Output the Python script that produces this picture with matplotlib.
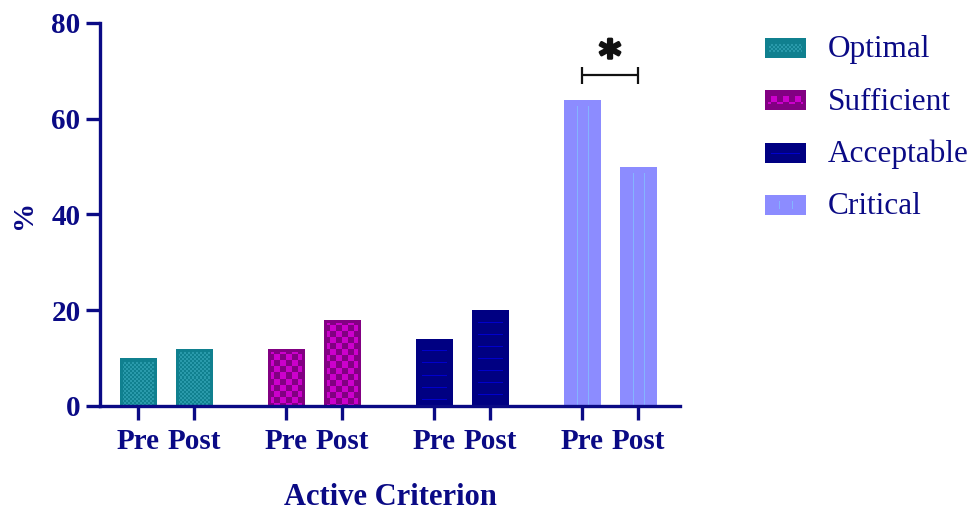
import numpy as np
import matplotlib
matplotlib.use("Agg")
import matplotlib.pyplot as plt
import matplotlib.patheffects as pe
from matplotlib.patches import Rectangle

# ---- data -------------------------------------------------------------
categories = ["Optimal", "Sufficient", "Acceptable", "Critical"]
pre_values = [10, 12, 14, 64]
post_values = [12, 18, 20, 50]
phase_labels = ["Pre", "Post"]
y_ticks = [0, 20, 40, 60, 80]
significant = [False, False, False, True]

# ---- style ------------------------------------------------------------
NAVY = "#0A0A85"
plt.rcParams["font.family"] = ["Liberation Serif", "DejaVu Serif"]

styles = {
    "Optimal":    dict(base="#10808F", fill="#2A9AAB", kind="fine_check"),
    "Sufficient": dict(base="#820082", fill="#CC00CC", kind="check"),
    "Acceptable": dict(base="#000082", fill="#0000CC", kind="hlines"),
    "Critical":   dict(base="#8C8CFF", fill="#84B4FF", kind="vlines"),
}


def hex_rgb(h):
    h = h.lstrip("#")
    return np.array([int(h[i:i + 2], 16) / 255 for i in (0, 2, 4)])


def texture(kind, base, fill, w, h, legend=False):
    """RGB texture (row 0 = top) for a patterned bar of w x h pixels."""
    w, h = max(int(round(w)), 2), max(int(round(h)), 2)
    img = np.tile(hex_rgb(base), (h, w, 1))
    c = hex_rgb(fill)
    yy, xx = np.mgrid[0:h, 0:w]
    if kind == "fine_check":
        side, top = (3, 4) if not legend else (4, 6)
        mask = ((xx // 2 + yy // 2) % 2 == 0)
        inner = (xx >= side) & (xx < w - side) & (yy >= top)
        if legend:
            inner &= (yy < h - 6)
        img[mask & inner] = c
    elif kind == "check":
        side, top = 3, 4
        mask = ((xx // 6 + yy // 6) % 2 == 0)
        inner = (xx >= side) & (xx < w - side) & (yy >= top)
        if legend:
            inner &= (yy >= 6) & (yy < h - 6)
        img[mask & inner] = c
    elif kind == "hlines":
        side = 6
        if legend:
            rows = [h // 2]
        else:
            rows = list(range(12, h, 12))
        for r in rows:
            img[r, side:w - side] = c
    elif kind == "vlines":
        top = 7 if not legend else 6
        for col in (int(round(w * 0.34)), int(round(w * 0.66))):
            if legend:
                img[top:h - top, col] = c
            else:
                img[top:, col] = c
    return img


# ---- figure -----------------------------------------------------------
W, H, DPI = 974, 513, 100
fig = plt.figure(figsize=(W / DPI, H / DPI), dpi=DPI)
ax = fig.add_axes([100 / W, 107 / H, 580 / W, 383 / H])

within = 1.0          # Pre -> Post spacing
group_gap = 2.643     # group -> group spacing
bar_w = 0.66

pre_x = np.arange(len(categories)) * group_gap
post_x = pre_x + within

x_left = pre_x[0] - 0.68
x_right = post_x[-1] + 0.75
ax.set_xlim(x_left, x_right)
ax.set_ylim(0, 80)

to_px = ax.transData.transform


def patterned_bar(x, value, cat):
    st = styles[cat]
    rect = Rectangle((x - bar_w / 2, 0), bar_w, value,
                     facecolor=st["base"], edgecolor="none", zorder=2)
    ax.add_patch(rect)
    (px0, py0), (px1, py1) = to_px([(x - bar_w / 2, 0), (x + bar_w / 2, value)])
    img = texture(st["kind"], st["base"], st["fill"], px1 - px0, py1 - py0)
    im = ax.imshow(img, extent=(x - bar_w / 2, x + bar_w / 2, 0, value),
                   origin="upper", interpolation="nearest", aspect="auto",
                   zorder=3)
    im.set_clip_path(rect)


for i, cat in enumerate(categories):
    patterned_bar(pre_x[i], pre_values[i], cat)
    patterned_bar(post_x[i], post_values[i], cat)

ax.set_xlim(x_left, x_right)
ax.set_ylim(0, 80)

# significance bracket
for i, sig in enumerate(significant):
    if not sig:
        continue
    top = max(pre_values[i], post_values[i])
    yb = top + 5.1
    ax.plot([pre_x[i], post_x[i]], [yb, yb], color="#111111", lw=1.6,
            solid_capstyle="butt", zorder=4)
    for xx in (pre_x[i], post_x[i]):
        ax.plot([xx, xx], [yb - 1.8, yb + 1.8], color="#111111", lw=1.6,
                solid_capstyle="butt", zorder=4)
    ax.text((pre_x[i] + post_x[i]) / 2, yb + 3.6, "*", ha="center",
            va="center", fontsize=30, fontweight="bold", color="#111111",
            family="DejaVu Sans",
            path_effects=[pe.withStroke(linewidth=2.0, foreground="#111111")])

# axes styling
for s in ("top", "right"):
    ax.spines[s].set_visible(False)
for s in ("left", "bottom"):
    ax.spines[s].set_color(NAVY)
    ax.spines[s].set_linewidth(2.4)
    ax.spines[s].set_zorder(5)

ax.set_yticks(y_ticks)
ax.set_yticklabels([str(t) for t in y_ticks])
tick_x = np.ravel(np.column_stack([pre_x, post_x]))
ax.set_xticks(tick_x)
ax.set_xticklabels(phase_labels * len(categories))
ax.tick_params(axis="both", colors=NAVY, width=2.4, length=10,
               labelsize=21, direction="out")
ax.tick_params(axis="y", pad=4)
ax.tick_params(axis="x", pad=6)
for lab in ax.get_xticklabels() + ax.get_yticklabels():
    lab.set_fontweight("bold")
    lab.set_color(NAVY)

ax.set_ylabel("%", fontsize=21, fontweight="bold", color=NAVY, labelpad=10)
ax.set_xlabel("Active Criterion", fontsize=22, fontweight="bold",
              color=NAVY, labelpad=20)

# legend drawn in pixel space
lax = fig.add_axes([0, 0, 1, 1], zorder=-1)
lax.set_xlim(0, W)
lax.set_ylim(H, 0)
lax.axis("off")
for k, cat in enumerate(categories):
    st = styles[cat]
    yc = 48 + k * 52.3
    bx, bw, bh = 765, 41, 20
    img = texture(st["kind"], st["base"], st["fill"], bw, bh, legend=True)
    lax.imshow(img, extent=(bx, bx + bw, yc + bh / 2, yc - bh / 2),
               origin="upper", interpolation="nearest", aspect="auto")
    lax.text(828, yc + 2, cat, fontsize=22.5, color=NAVY, va="center",
             ha="left")
lax.set_xlim(0, W)
lax.set_ylim(H, 0)

fig.savefig("out.png", dpi=DPI)
